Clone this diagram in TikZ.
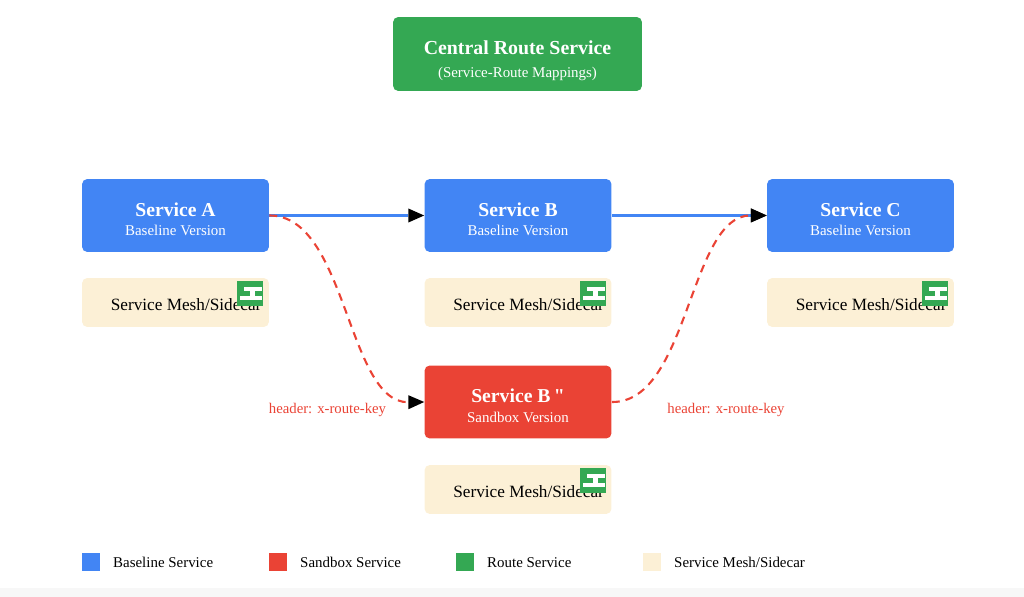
\documentclass[tikz,border=0pt]{standalone}
\usepackage{fontspec}
\defaultfontfeatures[\rmfamily]{}
\setmainfont{Liberation Serif}
\usetikzlibrary{arrows.meta}
\definecolor{baseblue}{HTML}{4285F4}
\definecolor{sandred}{HTML}{EA4335}
\definecolor{routegreen}{HTML}{34A853}
\definecolor{meshcream}{HTML}{FCF0D6}
\tikzset{
  svc/.style={rounded corners=3pt, minimum width=3.74cm, minimum height=1.46cm, text=white, align=center, inner sep=0pt},
  mesh/.style={fill=meshcream, rounded corners=3pt, minimum width=3.74cm, minimum height=0.98cm, inner sep=0pt},
  title/.style={font=\bfseries\fontsize{11.3}{13}\selectfont},
  sub/.style={font=\fontsize{8.5}{10}\selectfont},
  hdr/.style={text=sandred, font=\fontsize{8.4}{10}\selectfont},
  leg/.style={font=\fontsize{8.5}{10}\selectfont, anchor=base west},
  tip/.style={-{Triangle[length=9pt,width=8pt,fill=black,line width=0pt]}},
  flow/.style={tip, baseblue, line width=1.2pt},
  route/.style={tip, sandred, line width=1.2pt, dash pattern=on 4.5pt off 3.4pt}
}
\newcommand{\svcbox}[6]{%
  \node[svc, fill=#2] (#1) at (#3,#4) {};
  \node[text=white, font=\fontsize{11.2}{13}\selectfont\bfseries] at (#3,#4-6) {#5};
  \node[text=white, font=\fontsize{8.5}{10}\selectfont] at (#3,#4+15) {#6};}
\newcommand{\meshbox}[3]{%
  \node[mesh] (#1) at (#2,#3) {};
  \node[font=\fontsize{9.8}{11}\selectfont, anchor=west, inner sep=0pt] at (#2-65,#3+2) {Service Mesh/Sidecar};
  \fill[routegreen] ([shift={(-32,3)}]#1.north east) rectangle ++(26,25);
  \fill[white] ([shift={(-25,9)}]#1.north east) rectangle ++(18,4);
  \fill[white] ([shift={(-19,13)}]#1.north east) rectangle ++(5,5);
  \fill[white] ([shift={(-29,18)}]#1.north east) rectangle ++(22,4);}
\begin{document}
\begin{tikzpicture}[x=0.02cm, y=-0.02cm]
\useasboundingbox (0,0) rectangle (1024,597);
\fill[gray!6] (0,588) rectangle (1024,597);

\node[svc, fill=routegreen, minimum width=4.98cm, minimum height=1.48cm] (central) at (517.5,54) {};
\node[title, text=white] at (517.5,48) {Central Route Service};
\node[sub, text=white] at (517.5,74) {(Service-Route Mappings)};

\svcbox{svcA}{baseblue}{175.5}{215.5}{Service A}{Baseline Version}
\svcbox{svcB}{baseblue}{518}{215.5}{Service B}{Baseline Version}
\svcbox{svcC}{baseblue}{860.5}{215.5}{Service C}{Baseline Version}
\svcbox{svcBs}{sandred}{518}{402}{Service B\,"}{Sandbox Version}

\meshbox{meshA}{175.5}{302.5}
\meshbox{meshB}{518}{302.5}
\meshbox{meshC}{860.5}{302.5}
\meshbox{meshBs}{518}{489.5}

\draw[flow] (svcA.east) -- (svcB.west);
\draw[flow] (svcB.east) -- (svcC.west);
\draw[route] (svcA.east) .. controls (347,215) and (347,403) .. (svcBs.west);
\draw[route] (svcBs.east) .. controls (689,403) and (689,215) .. (svcC.west);
\node[hdr] (hdrA) at (327.5,410) {header: x-route-key};
\node[hdr] (hdrC) at (726,410) {header: x-route-key};

% legend
\fill[baseblue] (82,553) rectangle (100,571);
\node[leg] (legA) at (107,567) {Baseline Service};
\fill[sandred] (269,553) rectangle (287,571);
\node[leg] (legB) at (294,567) {Sandbox Service};
\fill[routegreen] (456,553) rectangle (474,571);
\node[leg] (legC) at (481,567) {Route Service};
\fill[meshcream] (643,553) rectangle (661,571);
\node[leg] (legD) at (668,567) {Service Mesh/Sidecar};
\end{tikzpicture}
\end{document}
